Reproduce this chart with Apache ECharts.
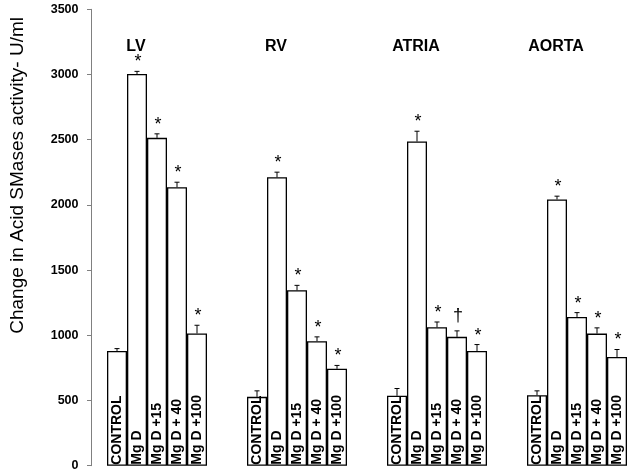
<!DOCTYPE html>
<html>
<head>
<meta charset="utf-8">
<script src="https://cdn.jsdelivr.net/npm/echarts@6/dist/echarts.min.js"></script>
<style>
html,body{margin:0;padding:0;background:#fff;}
#chart{width:631px;height:475px;}
</style>
</head>
<body>
<div id="chart"></div>
<script>
var groupNames = ['LV', 'RV', 'ATRIA', 'AORTA'];
var treatments = ['CONTROL', 'Mg D', 'Mg D +15', 'Mg D + 40', 'Mg D +100'];
var yTicks = [0, 500, 1000, 1500, 2000, 2500, 3000, 3500];

var lvValues    = [880, 3004, 2514, 2136, 1014];
var lvErrors    = [18, 20, 31, 38, 63];
var rvValues    = [528, 2212, 1345, 955, 743];
var rvErrors    = [46, 39, 38, 33, 26];
var atriaValues = [536, 2486, 1062, 988, 880];
var atriaErrors = [56, 79, 40, 46, 49];
var aortaValues = [541, 2042, 1141, 1013, 834];
var aortaErrors = [33, 25, 33, 44, 57];

var lvMarks    = ['', '*', '*', '*', '*'];
var rvMarks    = ['', '*', '*', '*', '*'];
var atriaMarks = ['', '*', '*', '\u2020', '*'];
var aortaMarks = ['', '*', '*', '*', '*'];

var groupValues = [lvValues, rvValues, atriaValues, aortaValues];
var groupErrors = [lvErrors, rvErrors, atriaErrors, aortaErrors];
var groupMarks  = [lvMarks, rvMarks, atriaMarks, aortaMarks];

var categories = [];
var barData = [];
var errData = [];
var groupLabelData = [];
for (var g = 0; g < groupNames.length; g++) {
  if (g > 0) {
    for (var s = 0; s < 2; s++) {
      categories.push('gap' + g + '_' + s);
      barData.push(null);
    }
  }
  for (var i = 0; i < treatments.length; i++) {
    var idx = categories.length;
    categories.push(groupNames[g] + '|' + treatments[i]);
    barData.push({ value: groupValues[g][i], name: treatments[i] });
    errData.push([idx, groupValues[g][i], groupErrors[g][i], groupMarks[g][i]]);
    if (i === 1) groupLabelData.push([idx, groupNames[g]]);
  }
}

var chart = echarts.init(document.getElementById('chart'));
chart.setOption({
  animation: false,
  backgroundColor: '#fff',
  grid: { left: 107, right: 4, top: 9.3, bottom: 9.3, containLabel: false },
  xAxis: {
    type: 'category',
    data: categories,
    show: false,
    boundaryGap: true
  },
  yAxis: {
    type: 'value',
    min: 0,
    max: 3500,
    interval: 500,
    offset: 15.5,
    axisLine: { show: true, lineStyle: { color: '#808080', width: 1 } },
    axisTick: { show: true, length: 4.5, lineStyle: { color: '#808080', width: 1 } },
    splitLine: { show: false },
    axisLabel: {
      color: '#000',
      fontFamily: 'Arial, Liberation Sans',
      fontWeight: 'bold',
      fontSize: 12.5,
      margin: 13,
      formatter: function (v) { return yTicks.indexOf(v) >= 0 ? String(v) : ''; }
    }
  },
  graphic: [{
    type: 'text',
    left: 8,
    top: 17,
    rotation: Math.PI / 2,
    style: {
      text: 'Change in Acid SMases activity- U/ml',
      font: '19px Arial, "Liberation Sans"',
      fill: '#000'
    }
  }],
  series: [
    {
      type: 'bar',
      data: barData,
      barWidth: '100%',
      barGap: '0%',
      itemStyle: { color: '#fff', borderColor: '#000', borderWidth: 1.3 },
      label: {
        show: true,
        position: 'insideBottom',
        rotate: 90,
        align: 'left',
        verticalAlign: 'middle',
        distance: 1,
        formatter: function (p) { return p.name; },
        color: '#000',
        fontFamily: 'Arial, Liberation Sans',
        fontWeight: 'bold',
        fontSize: 14
      },
      z: 2
    },
    {
      type: 'custom',
      data: errData,
      z: 3,
      renderItem: function (params, api) {
        var x = api.value(0);
        var v = api.value(1);
        var e = api.value(2);
        var mark = errData[params.dataIndex][3];
        var p0 = api.coord([x, v]);
        var p1 = api.coord([x, v + e]);
        var cap = 2.5;
        var children = [
          { type: 'line', shape: { x1: p0[0], y1: p0[1], x2: p1[0], y2: p1[1] }, style: { stroke: '#000', lineWidth: 1 } },
          { type: 'line', shape: { x1: p1[0] - cap, y1: p1[1], x2: p1[0] + cap, y2: p1[1] }, style: { stroke: '#000', lineWidth: 1 } }
        ];
        if (mark) {
          var isDagger = mark !== '*';
          children.push({
            type: 'text',
            x: p1[0] + 1,
            y: p1[1] - (isDagger ? 6 : 0),
            style: {
              text: mark,
              font: '18px Arial, "Liberation Sans"',
              fill: '#000',
              align: 'center',
              verticalAlign: 'bottom'
            }
          });
        }
        return { type: 'group', children: children };
      }
    },
    {
      type: 'custom',
      data: groupLabelData,
      z: 3,
      renderItem: function (params, api) {
        var x = api.value(0);
        var p = api.coord([x, 3500]);
        return {
          type: 'text',
          x: p[0] - 1,
          y: 47,
          style: {
            text: groupLabelData[params.dataIndex][1],
            font: 'bold 16px Arial, "Liberation Sans"',
            fill: '#000',
            align: 'center',
            verticalAlign: 'middle'
          }
        };
      }
    }
  ]
});
</script>
</body>
</html>
